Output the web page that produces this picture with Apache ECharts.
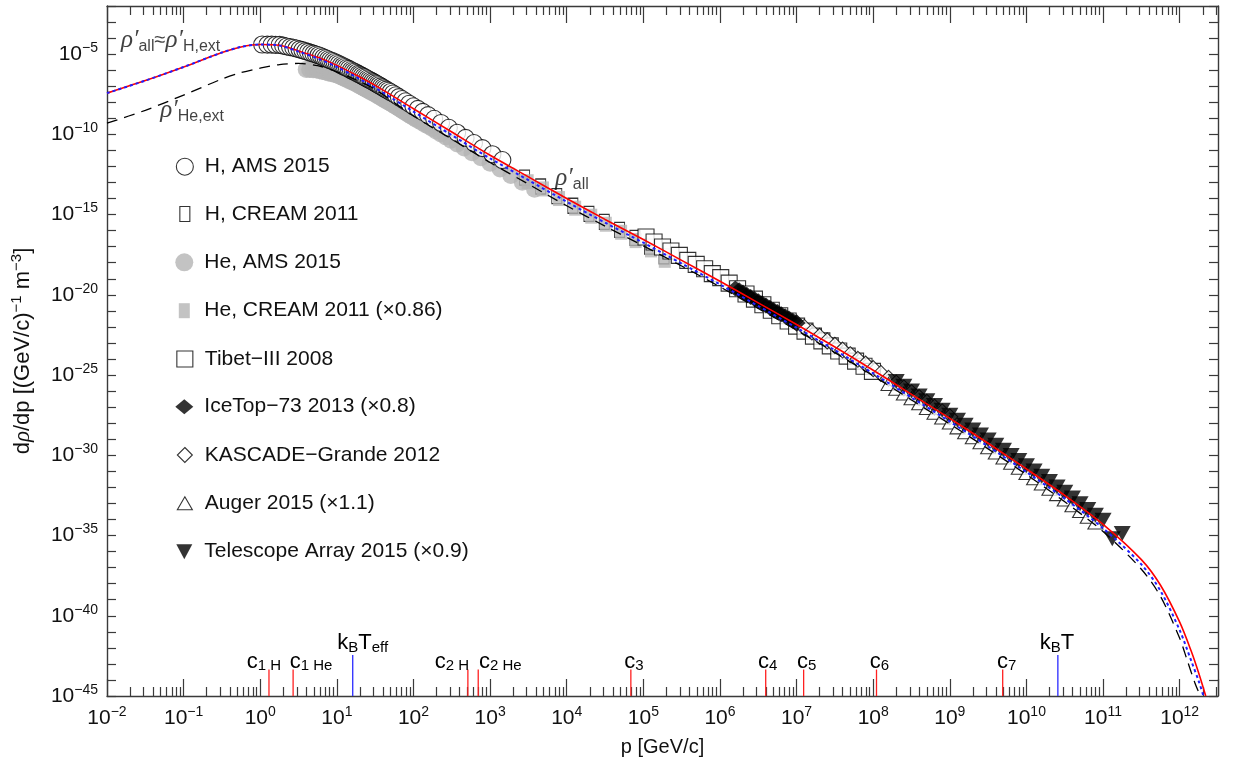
<!DOCTYPE html>
<html><head><meta charset="utf-8">
<script src="https://cdn.jsdelivr.net/npm/echarts@6/dist/echarts.min.js"></script>
<style>html,body{margin:0;padding:0;background:#fff}#c{width:1237px;height:764px}</style>
</head><body><div id="c"></div>
<script>
// All values are decimal exponents: log10(p [GeV/c]) and log10(dρ/dp)
const redLogP   = [-2,-1.5,-1,-0.5,-0.25,0,0.25,0.5,0.75,1,1.25,1.5,2,2.5,3,3.5,4,4.5,5,5.5,6,6.5,7,7.5,8,8.5,9,9.5,10,10.5,11,11.5,11.75,12,12.15,12.25,12.34];
const redLogRho = [-7.43,-6.65,-5.8,-4.9,-4.55,-4.4,-4.45,-4.8,-5.2,-5.7,-6.3,-6.95,-8.4,-9.85,-11.3,-12.65,-14.0,-15.3,-16.55,-17.85,-19.15,-20.5,-21.85,-23.25,-24.7,-26.2,-27.7,-29.25,-30.85,-32.5,-34.3,-36.5,-38.1,-40.4,-42.2,-43.6,-45];
const blueLogP   = [-2,-1.5,-1,-0.5,-0.25,0,0.25,0.5,0.75,1,1.25,1.5,2,2.5,3,3.5,4,4.5,5,5.5,6,6.5,7,7.5,8,8.5,9,9.5,10,10.5,11,11.5,11.75,12,12.15,12.25,12.31];
const blueLogRho = [-7.43,-6.65,-5.8,-4.9,-4.55,-4.4,-4.46,-4.84,-5.27,-5.8,-6.42,-7.1,-8.58,-10.05,-11.5,-12.85,-14.2,-15.5,-16.75,-18.05,-19.35,-20.7,-22.05,-23.45,-24.9,-26.4,-27.9,-29.45,-31.05,-32.7,-34.55,-36.8,-38.45,-40.9,-42.8,-44.1,-45];
const blackLogP   = [-2,-1.5,-1,-0.5,-0.25,0,0.25,0.5,0.75,1,1.25,1.5,2,2.5,3,3.5,4,4.5,5,5.5,6,6.5,7,7.5,8,8.5,9,9.5,10,10.5,11,11.5,11.75,12,12.1,12.2,12.27];
const blackLogRho = [-9.3,-8.5,-7.55,-6.55,-6.15,-5.87,-5.65,-5.58,-5.72,-6.1,-6.6,-7.2,-8.85,-10.3,-11.75,-13.1,-14.45,-15.72,-16.95,-18.2,-19.5,-20.85,-22.2,-23.6,-25.05,-26.55,-28.05,-29.6,-31.2,-32.9,-34.75,-37.1,-38.8,-41.4,-42.8,-44.2,-45];

const hAmsLogP = [0.025,0.093,0.149,0.201,0.253,0.299,0.344,0.389,0.431,0.473,0.512,0.550,0.588,0.624,0.659,0.694,0.727,0.760,0.792,0.823,0.854,0.884,0.913,0.942,0.970,0.998,1.025,1.053,1.079,1.104,1.130,1.155,1.182,1.207,1.230,1.255,1.279,1.301,1.324,1.348,1.371,1.394,1.417,1.439,1.462,1.484,1.507,1.529,1.551,1.574,1.598,1.621,1.645,1.671,1.700,1.733,1.770,1.809,1.851,1.896,1.945,1.999,2.057,2.121,2.190,2.270,2.360,2.462,2.57,2.68,2.79,2.90,3.03,3.16];
const hAmsLogRho = [-4.40,-4.41,-4.41,-4.42,-4.42,-4.47,-4.52,-4.56,-4.60,-4.65,-4.70,-4.75,-4.81,-4.86,-4.92,-4.97,-5.02,-5.07,-5.13,-5.20,-5.26,-5.32,-5.38,-5.43,-5.49,-5.55,-5.61,-5.68,-5.74,-5.80,-5.86,-5.92,-5.99,-6.05,-6.10,-6.16,-6.23,-6.28,-6.34,-6.40,-6.46,-6.52,-6.58,-6.64,-6.70,-6.76,-6.82,-6.88,-6.94,-7.01,-7.07,-7.14,-7.21,-7.28,-7.36,-7.45,-7.56,-7.68,-7.80,-7.94,-8.09,-8.25,-8.41,-8.60,-8.80,-9.03,-9.29,-9.59,-9.90,-10.22,-10.54,-10.86,-11.24,-11.60];
const heAmsLogP = [0.60,0.645,0.69,0.732,0.774,0.813,0.851,0.889,0.925,0.96,0.995,1.028,1.061,1.093,1.124,1.155,1.185,1.214,1.243,1.271,1.299,1.326,1.354,1.380,1.405,1.431,1.456,1.483,1.508,1.531,1.556,1.580,1.602,1.625,1.649,1.672,1.695,1.718,1.740,1.763,1.785,1.808,1.830,1.852,1.875,1.899,1.922,1.946,1.972,2.001,2.034,2.071,2.110,2.152,2.197,2.246,2.300,2.358,2.422,2.491,2.571,2.661,2.763,2.88,3.0,3.13,3.27,3.42,3.58];
const heAmsLogRho = [-5.95,-5.96,-5.98,-5.99,-6.03,-6.08,-6.12,-6.17,-6.21,-6.25,-6.29,-6.36,-6.43,-6.50,-6.57,-6.64,-6.71,-6.77,-6.83,-6.90,-6.98,-7.05,-7.12,-7.19,-7.25,-7.32,-7.39,-7.46,-7.52,-7.59,-7.66,-7.72,-7.79,-7.85,-7.92,-7.98,-8.05,-8.11,-8.17,-8.24,-8.30,-8.37,-8.44,-8.51,-8.58,-8.65,-8.72,-8.79,-8.87,-8.95,-9.05,-9.15,-9.26,-9.38,-9.50,-9.64,-9.80,-9.97,-10.16,-10.37,-10.60,-10.85,-11.14,-11.46,-11.80,-12.16,-12.56,-12.98,-13.42];
const hCreamLogP = [3.45,3.66,3.87,4.08,4.29,4.49,4.69,4.89,5.08,5.27];
const hCreamLogRho = [-12.7,-13.25,-13.85,-14.45,-14.95,-15.45,-15.95,-16.45,-17.0,-17.6];
const heCreamLogP = [3.49,3.69,3.90,4.11,4.32,4.51,4.71,4.90,5.10,5.28];
const heCreamLogRho = [-12.95,-13.4,-14.0,-14.6,-15.1,-15.6,-16.1,-16.62,-17.2,-17.85];
const tibetLogP = [5.035,5.14,5.25,5.36,5.47,5.58,5.69,5.80,5.90,6.01,6.12,6.23,6.34,6.45,6.56,6.67,6.78,6.89,7.00,7.11,7.22,7.33,7.44,7.55,7.66,7.77,7.88,7.99];
const tibetLogRho = [-16.40,-16.71,-17.02,-17.27,-17.54,-17.85,-18.10,-18.37,-18.68,-18.93,-19.27,-19.62,-19.95,-20.27,-20.62,-20.96,-21.3,-21.63,-21.95,-22.26,-22.57,-22.87,-23.18,-23.5,-23.82,-24.13,-24.45,-24.77];
const iceTopLogP = [6.20,6.25,6.30,6.35,6.40,6.45,6.50,6.55,6.60,6.65,6.70,6.75,6.80,6.85,6.90,6.95,7.00];
const iceTopLogRho = [-19.6,-19.72,-19.86,-19.99,-20.13,-20.26,-20.40,-20.53,-20.67,-20.80,-20.94,-21.07,-21.21,-21.34,-21.48,-21.61,-21.75];
const kascadeLogP = [7.0,7.1,7.2,7.3,7.4,7.5,7.6,7.7,7.8,7.9,8.0,8.1,8.2,8.3,8.4,8.5,8.6,8.7,8.8,8.9,9.0];
const kascadeLogRho = [-21.75,-22.03,-22.31,-22.59,-22.87,-23.15,-23.44,-23.73,-24.02,-24.31,-24.6,-24.9,-25.2,-25.5,-25.8,-26.1,-26.4,-26.7,-27.0,-27.3,-27.6];
const augerLogP = [8.2,8.3,8.4,8.5,8.6,8.7,8.8,8.9,9.0,9.1,9.2,9.3,9.4,9.5,9.6,9.7,9.8,9.9,10.0,10.1,10.2,10.3,10.4,10.5,10.6,10.7,10.8,10.9];
const augerLogRho = [-25.55,-25.85,-26.15,-26.45,-26.75,-27.05,-27.35,-27.65,-27.95,-28.26,-28.57,-28.88,-29.19,-29.5,-29.82,-30.14,-30.46,-30.78,-31.1,-31.43,-31.76,-32.09,-32.42,-32.75,-33.11,-33.47,-33.83,-34.19];
const taLogP = [8.3,8.4,8.5,8.6,8.7,8.8,8.9,9.0,9.1,9.2,9.3,9.4,9.5,9.6,9.7,9.8,9.9,10.0,10.1,10.2,10.3,10.4,10.5,10.6,10.7,10.8,10.9,11.0,11.12,11.25];
const taLogRho = [-25.4,-25.7,-26.0,-26.3,-26.6,-26.9,-27.2,-27.5,-27.81,-28.12,-28.43,-28.74,-29.05,-29.37,-29.69,-30.01,-30.33,-30.65,-30.98,-31.31,-31.64,-31.97,-32.3,-32.66,-33.02,-33.38,-33.74,-34.05,-35.2,-34.88];

// scale markers at the bottom
const markLogP  = [0.114,0.429,1.207,2.71,2.845,4.837,6.597,7.092,8.043,9.69,10.41];
const markNames = ['c1 H','c1 He','kBTeff','c2 H','c2 He','c3','c4','c5','c6','c7','kBT'];
const markIsTemp = [0,0,1,0,0,0,0,0,0,0,1];

const seriesNames = ['H, AMS 2015','H, CREAM 2011','He, AMS 2015','He, CREAM 2011 (×0.86)','Tibet−III 2008','IceTop−73 2013 (×0.8)','KASCADE−Grande 2012','Auger 2015 (×1.1)','Telescope Array 2015 (×0.9)'];
</script>
<script>
const F = "'Liberation Sans', Arial, Helvetica, sans-serif";
const SER = "'Liberation Serif', 'DejaVu Serif', serif";
const X0 = -2, X1 = 12.5, Y0 = -45, Y1 = -2;
const INK = '#3a3a3a';
const pairs = (xs, ys) => xs.map((x, i) => [x, ys[i]]);

const minorTicks = [];
for (let n = -2; n <= 12; n++) for (let k = 2; k <= 9; k++) { const v = n + Math.log10(k); if (v < X1) minorTicks.push(v); }
const expText = v => (v < 0 ? '−' + (-v) : '' + v);
const tickRich = {
  b: {fontSize: 21, lineHeight: 26, fontFamily: F, color: '#111', verticalAlign: 'middle'},
  s: {fontSize: 14, lineHeight: 11, fontFamily: F, color: '#111', verticalAlign: 'top'}
};
const xLabelFmt = v => Math.abs(v - Math.round(v)) < 1e-9 ? '{b|10}{s|' + expText(Math.round(v)) + '}' : '';
const yLabelFmt = v => (Math.round(v) % 5 === 0) ? '{b|10}{s|' + expText(Math.round(v)) + '}' : '';

function xAxisDef(pos, major, labels) {
  return {
    type: 'value', min: X0, max: X1, interval: 1, position: pos, gridIndex: 0,
    axisLine: {show: major, onZero: false, lineStyle: {color: INK, width: 1.4}},
    axisTick: major ? {show: true, inside: true, length: 17, lineStyle: {color: INK, width: 1.2}}
                    : {show: true, inside: true, length: 9, customValues: minorTicks, lineStyle: {color: INK, width: 1.2}},
    axisLabel: labels ? {show: true, margin: 9, formatter: xLabelFmt, rich: tickRich} : {show: false},
    splitLine: {show: false},
    name: labels ? 'p [GeV/c]' : '', nameLocation: 'middle', nameGap: 41,
    nameTextStyle: {fontSize: 20, fontFamily: F, color: '#111'}
  };
}
function yAxisDef(pos, labels) {
  return {
    type: 'value', min: Y0, max: Y1, interval: 1, position: pos,
    axisLine: {show: true, onZero: false, lineStyle: {color: INK, width: 1.4}},
    axisTick: {show: true, inside: true, length: 9, lineStyle: {color: INK, width: 1.2}},
    axisLabel: labels ? {show: true, margin: 9, formatter: yLabelFmt, rich: tickRich} : {show: false},
    splitLine: {show: false},
    name: labels ? '{n|d}{i|ρ}{n|/dp [(GeV/c)}{s|−1}{n| m}{s|−3}{n|]}' : '',
    nameLocation: 'middle', nameGap: 70,
    nameTextStyle: labels ? {rich: {
      n: {fontSize: 22, fontFamily: F, color: '#111', lineHeight: 28, verticalAlign: 'middle'},
      i: {fontSize: 23, fontFamily: SER, fontStyle: 'italic', color: '#111', lineHeight: 28, verticalAlign: 'middle'},
      s: {fontSize: 15, fontFamily: F, color: '#111', lineHeight: 12, verticalAlign: 'top'}
    }} : {}
  };
}

const openStyle = {color: '#ffffff', borderColor: '#000', borderWidth: 1.1};
const grayStyle = {color: '#b4b4b4'};
function scatter(name, data, symbol, size, style, extra) {
  return Object.assign({
    type: 'scatter', name, data, symbol, symbolSize: size, itemStyle: style,
    emphasis: {disabled: true}, silent: true, z: 2
  }, extra || {});
}

const markers = [
  scatter(seriesNames[1], pairs(hCreamLogP, hCreamLogRho), 'rect', [10, 15], openStyle),
  scatter(seriesNames[3], pairs(heCreamLogP, heCreamLogRho), 'rect', [12, 15], grayStyle),
  scatter(seriesNames[2], pairs(heAmsLogP, heAmsLogRho), 'circle', 17, grayStyle),
  scatter(seriesNames[0], pairs(hAmsLogP, hAmsLogRho), 'circle', 17, openStyle),
  scatter(seriesNames[4], pairs(tibetLogP, tibetLogRho), 'rect', 16, openStyle),
  scatter(seriesNames[6], pairs(kascadeLogP, kascadeLogRho), 'diamond', [16, 16], openStyle),
  scatter(seriesNames[5], pairs(iceTopLogP, iceTopLogRho), 'diamond', [18, 16], {color: '#000'}),
  scatter(seriesNames[7], pairs(augerLogP, augerLogRho), 'triangle', [15, 13], openStyle),
  scatter(seriesNames[8], pairs(taLogP, taLogRho), 'triangle', [17, 15], {color: '#000'}, {symbolRotate: 180})
];

function curve(name, data, lineStyle) {
  return {type: 'line', name, data, showSymbol: false, symbol: 'none', smooth: 0.3,
    lineStyle, emphasis: {disabled: true}, silent: true, z: 5, clip: true};
}
const curves = [
  curve('ρ′all', pairs(redLogP, redLogRho), {color: '#ff0000', width: 1.6}),
  curve('ρ′H,ext', pairs(blueLogP, blueLogRho), {color: '#1f1fff', width: 2, type: [3, 3]}),
  curve('ρ′He,ext', pairs(blackLogP, blackLogRho), {color: '#000', width: 1.3, type: [11, 7]})
];

const markRich = {
  c: {fontSize: 22, lineHeight: 24, fontFamily: F, color: '#111', verticalAlign: 'middle'},
  s: {fontSize: 15, lineHeight: 18, fontFamily: F, color: '#111', verticalAlign: 'bottom'}
};
const markLabelText = {
  'c1 H': '{c|c}{s|1 H}', 'c1 He': '{c|c}{s|1 He}', 'kBTeff': '{c|k}{s|B}{c|T}{s|eff}',
  'c2 H': '{c|c}{s|2 H}', 'c2 He': '{c|c}{s|2 He}', 'c3': '{c|c}{s|3}', 'c4': '{c|c}{s|4}',
  'c5': '{c|c}{s|5}', 'c6': '{c|c}{s|6}', 'c7': '{c|c}{s|7}', 'kBT': '{c|k}{s|B}{c|T}'
};
const markDx = [-5, 18, 10, -16, 22, 3, 2, 3, 3, 4, -1];
const markSeries = {
  type: 'custom', name: 'marks', silent: true, z: 6, clip: false,
  data: markLogP.map((x, i) => [x, markIsTemp[i] ? -42.45 : -43.35]),
  renderItem: (params, api) => {
    const i = params.dataIndex;
    const isT = markIsTemp[i];
    const p0 = api.coord([api.value(0), Y0]);
    const p1 = api.coord([api.value(0), api.value(1)]);
    return {type: 'group', children: [
      {type: 'line', shape: {x1: p0[0], y1: p0[1], x2: p1[0], y2: p1[1]},
       style: {stroke: isT ? '#2a2aff' : '#ff2020', lineWidth: 1.3}},
      {type: 'text', x: p1[0] + markDx[i], y: p1[1] + (isT ? 0 : 4),
       style: {text: markLabelText[markNames[i]], rich: markRich, align: 'center', verticalAlign: 'bottom'}}
    ]};
  }
};

const annRich = {
  r: {fontSize: 25, fontFamily: SER, fontStyle: 'italic', color: '#111', lineHeight: 28, verticalAlign: 'middle'},
  s: {fontSize: 16, fontFamily: F, color: '#111', lineHeight: 16, verticalAlign: 'bottom'},
  n: {fontSize: 20, fontFamily: F, color: '#111', lineHeight: 28, verticalAlign: 'middle'}
};
const annotations = {
  type: 'scatter', name: 'annotations', symbolSize: 0, silent: true, z: 7,
  itemStyle: {color: 'rgba(0,0,0,0)'},
  label: {show: true, position: 'inside', rich: annRich, formatter: p => p.data.t},
  data: [
    {value: [-1.17, -4.15], t: '{r|ρ′}{s|all}{n|≈}{r|ρ′}{s|H,ext}'},
    {value: [-0.889, -8.51], t: '{r|ρ′}{s|He,ext}'},
    {value: [4.07, -12.74], t: '{r|ρ′}{s|all}'}
  ]
};

const legendIcon = [
  {w: 17, h: 17, bw: 1.1}, {w: 10, h: 15, bw: 1.1}, {w: 18, h: 18, bw: 0}, {w: 11, h: 15, bw: 0},
  {w: 16, h: 16, bw: 1.1}, {w: 18, h: 15, bw: 0}, {w: 15, h: 15, bw: 1.1}, {w: 15, h: 13, bw: 1.1}, {w: 16, h: 15, bw: 0}
];
const legendRowY = [166.7, 214, 262.3, 310.7, 359, 406.7, 455, 503.3, 551.7];
const legends = seriesNames.map((nm, i) => {
  const ic = legendIcon[i];
  const left = 184.3 - ic.w / 2;
  const item = (i === 8) ? {name: nm, icon: 'path://M0,0L16,0L8,15Z'} : nm;
  return {
    show: true, orient: 'horizontal', left, top: legendRowY[i] - 12, padding: 0, itemGap: 0,
    itemWidth: ic.w, itemHeight: ic.h, selectedMode: false, data: [item],
    itemStyle: {borderWidth: ic.bw},
    textStyle: {fontSize: 21, lineHeight: 24, color: '#111', fontFamily: F,
                padding: [0, 0, 0, 204.3 - (left + ic.w + 5)]}
  };
});

const chart = echarts.init(document.getElementById('c'), null, {renderer: 'canvas'});
chart.setOption({
  animation: false,
  backgroundColor: '#ffffff',
  textStyle: {fontFamily: F},
  grid: {left: 107, right: 19, top: 6, bottom: 68, containLabel: false, outerBoundsMode: 'none'},
  legend: legends,
  xAxis: [xAxisDef('bottom', true, true), xAxisDef('bottom', false, false), xAxisDef('top', true, false), xAxisDef('top', false, false)],
  yAxis: [yAxisDef('left', true), yAxisDef('right', false)],
  series: [...markers, ...curves, markSeries, annotations]
});
</script>
</body></html>
